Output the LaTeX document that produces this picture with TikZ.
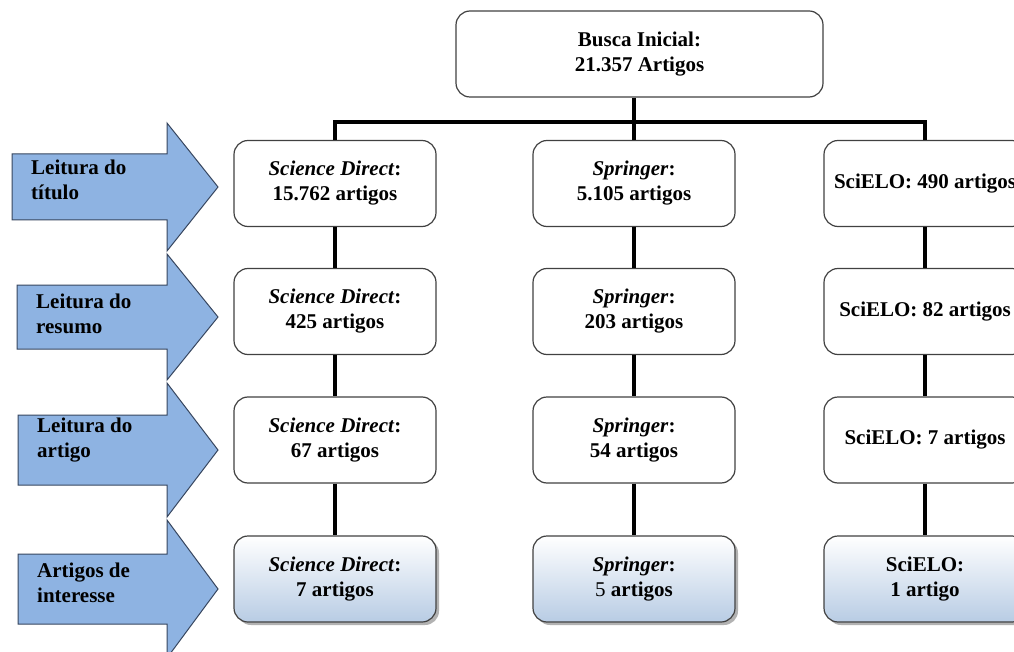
\documentclass[tikz,border=0pt]{standalone}
\usepackage{fontspec}
\setmainfont{LiberationSerif}[Extension=.ttf, UprightFont=*-Regular, BoldFont=*-Bold, ItalicFont=*-Italic, BoldItalicFont=*-BoldItalic]
\usetikzlibrary{shadows}
\definecolor{arrowfill}{RGB}{142,179,226}
\definecolor{arrowline}{RGB}{55,70,95}
\definecolor{boxline}{RGB}{65,65,65}
\definecolor{gradblue}{RGB}{184,204,228}
\newcommand\stagearrow[7]{%
  \draw[arrowshape] (#3,#2-#4) -- (167,#2-#4) -- (167,#2-#5) -- (218,#2)
    -- (167,#2+#5) -- (167,#2+#4) -- (#3,#2+#4) -- cycle;
  \node[arrowtext] (#1) at (#3+19,#6) {#7};}
\begin{document}
\begin{tikzpicture}[x=1pt,y=-1pt,
  box/.style={draw=boxline, line width=1.2pt, rounded corners=14pt,
    minimum width=202pt, minimum height=86pt, align=center, inner sep=0pt,
    fill=white, font=\bfseries\fontsize{21}{25}\selectfont},
  final/.style={box, shading=axis, top color=white, bottom color=gradblue,
    drop shadow={shadow xshift=3pt, shadow yshift=-3pt, fill=black!50, opacity=0.6}},
  conn/.style={line width=4pt, draw=black},
  arrowshape/.style={draw=arrowline, fill=arrowfill, line width=1pt, line join=miter},
  arrowtext/.style={anchor=west, align=left, inner sep=0pt,
    font=\bfseries\fontsize{21}{25}\selectfont}]
\clip (0,0) rectangle (1014,652);
\fill[white] (0,0) rectangle (1014,652);

% stage arrows
\stagearrow{a1}{187}{12}{33}{64}{180}{Leitura do\\título}
\stagearrow{a2}{317}{17}{32}{63}{314}{Leitura do\\resumo}
\stagearrow{a3}{450}{18}{35}{67}{440}{Leitura do\\artigo}
\stagearrow{a4}{589}{18}{35}{69}{583}{Artigos de\\interesse}

% top box
\node[box, minimum width=367pt] (top) at (639.5,54) {Busca Inicial:\\21.357 Artigos};

% row 1
\node[box] (sd1) at (335,183.5) {\textit{Science Direct}:\\15.762 artigos};
\node[box] (sp1) at (634,183.5) {\textit{Springer}:\\5.105 artigos};
\node[box] (sc1) at (925,183.5) {SciELO: 490 artigos};
% row 2
\node[box] (sd2) at (335,311.5) {\textit{Science Direct}:\\425 artigos};
\node[box] (sp2) at (634,311.5) {\textit{Springer}:\\203 artigos};
\node[box] (sc2) at (925,311.5) {SciELO: 82 artigos};
% row 3
\node[box] (sd3) at (335,440) {\textit{Science Direct}:\\67 artigos};
\node[box] (sp3) at (634,440) {\textit{Springer}:\\54 artigos};
\node[box] (sc3) at (925,440) {SciELO: 7 artigos};
% row 4
\node[final] (sd4) at (335,579) {\textit{Science Direct}:\\7 artigos};
\node[final] (sp4) at (634,579) {\textit{Springer}:\\{\mdseries 5} artigos};
\node[final] (sc4) at (925,579) {SciELO:\\1 artigo};

% connectors
\coordinate (bus) at (634,122);
\draw[conn] (sd1.north) |- (bus) -| (sc1.north);
\draw[conn] (top.south -| sp1.north) -- (sp1.north);
\foreach \c in {sd,sp,sc}{
  \draw[conn] (\c1.south) -- (\c2.north);
  \draw[conn] (\c2.south) -- (\c3.north);
  \draw[conn] (\c3.south) -- (\c4.north);
}
\end{tikzpicture}
\end{document}
